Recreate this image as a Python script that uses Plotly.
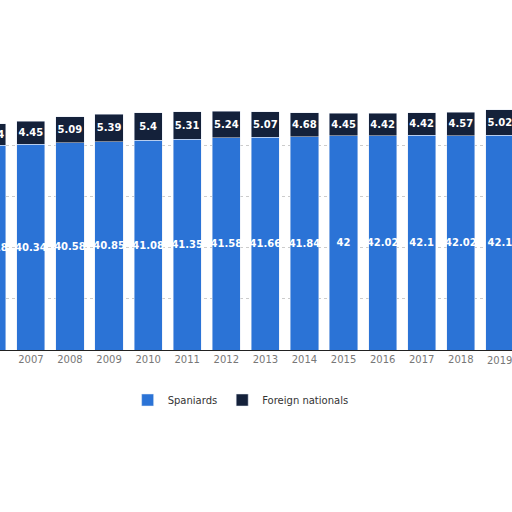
import plotly.graph_objects as go

years = list(range(2006, 2020))
spaniards = [40.18, 40.34, 40.58, 40.85, 41.08, 41.35, 41.58, 41.66, 41.84, 42, 42.02, 42.1, 42.02, 42.1]
foreign = [4.14, 4.45, 5.09, 5.39, 5.4, 5.31, 5.24, 5.07, 4.68, 4.45, 4.42, 4.42, 4.57, 5.02]

fig = go.Figure()
fig.add_bar(x=years, y=spaniards, name="Spaniards", marker_color="#2b73d6",
            text=[f"{v:g}" for v in spaniards], textposition="inside", insidetextanchor="middle",
            textangle=0, constraintext="none",
            textfont=dict(color="white", size=10, family="DejaVu Sans", weight="bold"), width=0.72)
fig.add_bar(x=years, y=foreign, name="Foreign nationals", marker_color="#14213a",
            text=[f"{v:g}" for v in foreign], textposition="inside", insidetextanchor="middle",
            textangle=0, constraintext="none",
            textfont=dict(color="white", size=10, family="DejaVu Sans", weight="bold"), width=0.72)

# last year's tick label, cut by the right edge as in the reference
fig.add_annotation(x=years[-1], y=0, yref="y", text=str(years[-1]), showarrow=False,
                   yanchor="top", yshift=-3, font=dict(size=10, color="#777"))

fig.update_layout(
    barmode="stack", width=512, height=512,
    margin=dict(l=0, r=0, t=100, b=162, autoexpand=False),
    plot_bgcolor="white", paper_bgcolor="white",
    font=dict(family="DejaVu Sans", color="#777", size=10),
    uniformtext=dict(minsize=8, mode="show"),
    legend=dict(orientation="h", x=0.47, xanchor="center", y=-0.2, yanchor="middle",
                traceorder="normal", font=dict(size=10, color="#333")),
    xaxis=dict(range=[2006.21, 2019.31], tickmode="array", tickvals=years, automargin=False,
               showline=True, linecolor="#222", ticks="", showgrid=False),
    yaxis=dict(range=[0, 49], showticklabels=False, gridcolor="#ccc", griddash="dot",
               dtick=10, zeroline=False, automargin=False),
)
fig.write_html("out.html", config={"displayModeBar": False},
               post_script="document.body.style.margin='0';document.body.style.overflow='hidden';")
